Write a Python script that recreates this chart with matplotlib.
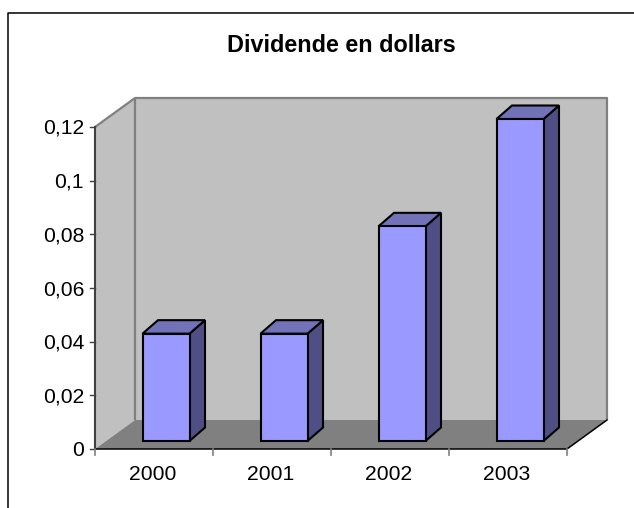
import matplotlib
matplotlib.use('Agg')
import matplotlib.pyplot as plt

years = ['2000', '2001', '2002', '2003']
dividends = [0.04, 0.04, 0.08, 0.12]
tick_values = [0, 0.02, 0.04, 0.06, 0.08, 0.1, 0.12]
tick_labels = ['0', '0,02', '0,04', '0,06', '0,08', '0,1', '0,12']

W, H = 634, 508
plt.rcParams['font.family'] = ['Liberation Sans', 'DejaVu Sans']

fig = plt.figure(figsize=(W / 100, H / 100), dpi=100)
fig.patch.set_facecolor('white')

# axes sits on the front plane of the 3D box
L, R, T, B = 95, 567, 127, 449
ax = fig.add_axes([L / W, 1 - B / H, (R - L) / W, (B - T) / H])
ax.set_xlim(0, 4)
ax.set_ylim(0, 0.12)
ax.axis('off')

xpx = 4 / (R - L)
ypx = 0.12 / (B - T)

# box depth
dx = 40 * xpx
dy = 29 * ypx
ymax = tick_values[-1]

ax.fill([0, dx, dx, 0], [0, dy, ymax + dy, ymax], fc='#c0c0c0', ec='none', clip_on=False)
ax.fill([dx, 4 + dx, 4 + dx, dx], [dy, dy, ymax + dy, ymax + dy], fc='#c0c0c0', ec='none', clip_on=False)
ax.fill([0, 4, 4 + dx, dx], [0, 0, dy, dy], fc='#808080', ec='none', clip_on=False)

gray = dict(color='#808080', lw=1.6, clip_on=False, solid_capstyle='butt')
ax.plot([0, dx, 4 + dx, 4 + dx], [ymax, ymax + dy, ymax + dy, dy], **gray)
ax.plot([dx, dx], [dy, ymax + dy], **gray)
ax.plot([0, 0], [0, ymax], color='#404040', lw=1.5, clip_on=False)
ax.plot([0, 4, 4 + dx], [0, 0, dy], color='black', lw=1.1, clip_on=False)

# ticks
for v, lab in zip(tick_values, tick_labels):
    ax.plot([-5 * xpx, 0], [v, v], color='#404040', lw=1, clip_on=False)
    ax.text(-11 * xpx, v + 0.5 * ypx, lab, ha='right', va='center_baseline', fontsize=15.2, color='black')
for i in range(5):
    ax.plot([i, i], [0, -6 * ypx], color='#808080', lw=1.2, clip_on=False)
for i, y in enumerate(years):
    ax.text(i + 0.5 - 1 * xpx, -24 * ypx, y, ha='center', va='center_baseline', fontsize=15.2, color='black')

# bars
bar_w = 47 * xpx
front_x = 12 * xpx
front_y = 8 * ypx
bar_dx = 15.5 * xpx
bar_dy = 13.5 * ypx
for i, v in enumerate(dividends):
    x0 = i + 0.5 + front_x - bar_w / 2
    x1 = x0 + bar_w
    y0 = front_y
    y1 = front_y + v
    ax.fill([x1, x1 + bar_dx, x1 + bar_dx, x1], [y0, y0 + bar_dy, y1 + bar_dy, y1],
            fc='#4f4f86', ec='black', lw=1.5, clip_on=False, joinstyle='miter')
    ax.fill([x0, x1, x1 + bar_dx, x0 + bar_dx], [y1, y1, y1 + bar_dy, y1 + bar_dy],
            fc='#7272b8', ec='black', lw=1.5, clip_on=False, joinstyle='miter')
    ax.bar(x0, v, width=bar_w, bottom=y0, align='edge', color='#9999ff', ec='black', lw=1.5, clip_on=False)

fig.text(341 / W, 1 - 43 / H, 'Dividende en dollars', ha='center', va='center_baseline',
         fontsize=16.8, fontweight='bold', color='black')

# outer frame: only left and top sides show, the top runs off the right edge
fig.add_artist(plt.Line2D([8 / W, 8 / W, 1], [0, 1 - 13 / H, 1 - 13 / H],
                          color='black', lw=1.1, transform=fig.transFigure))

fig.savefig('out.png', dpi=100)
